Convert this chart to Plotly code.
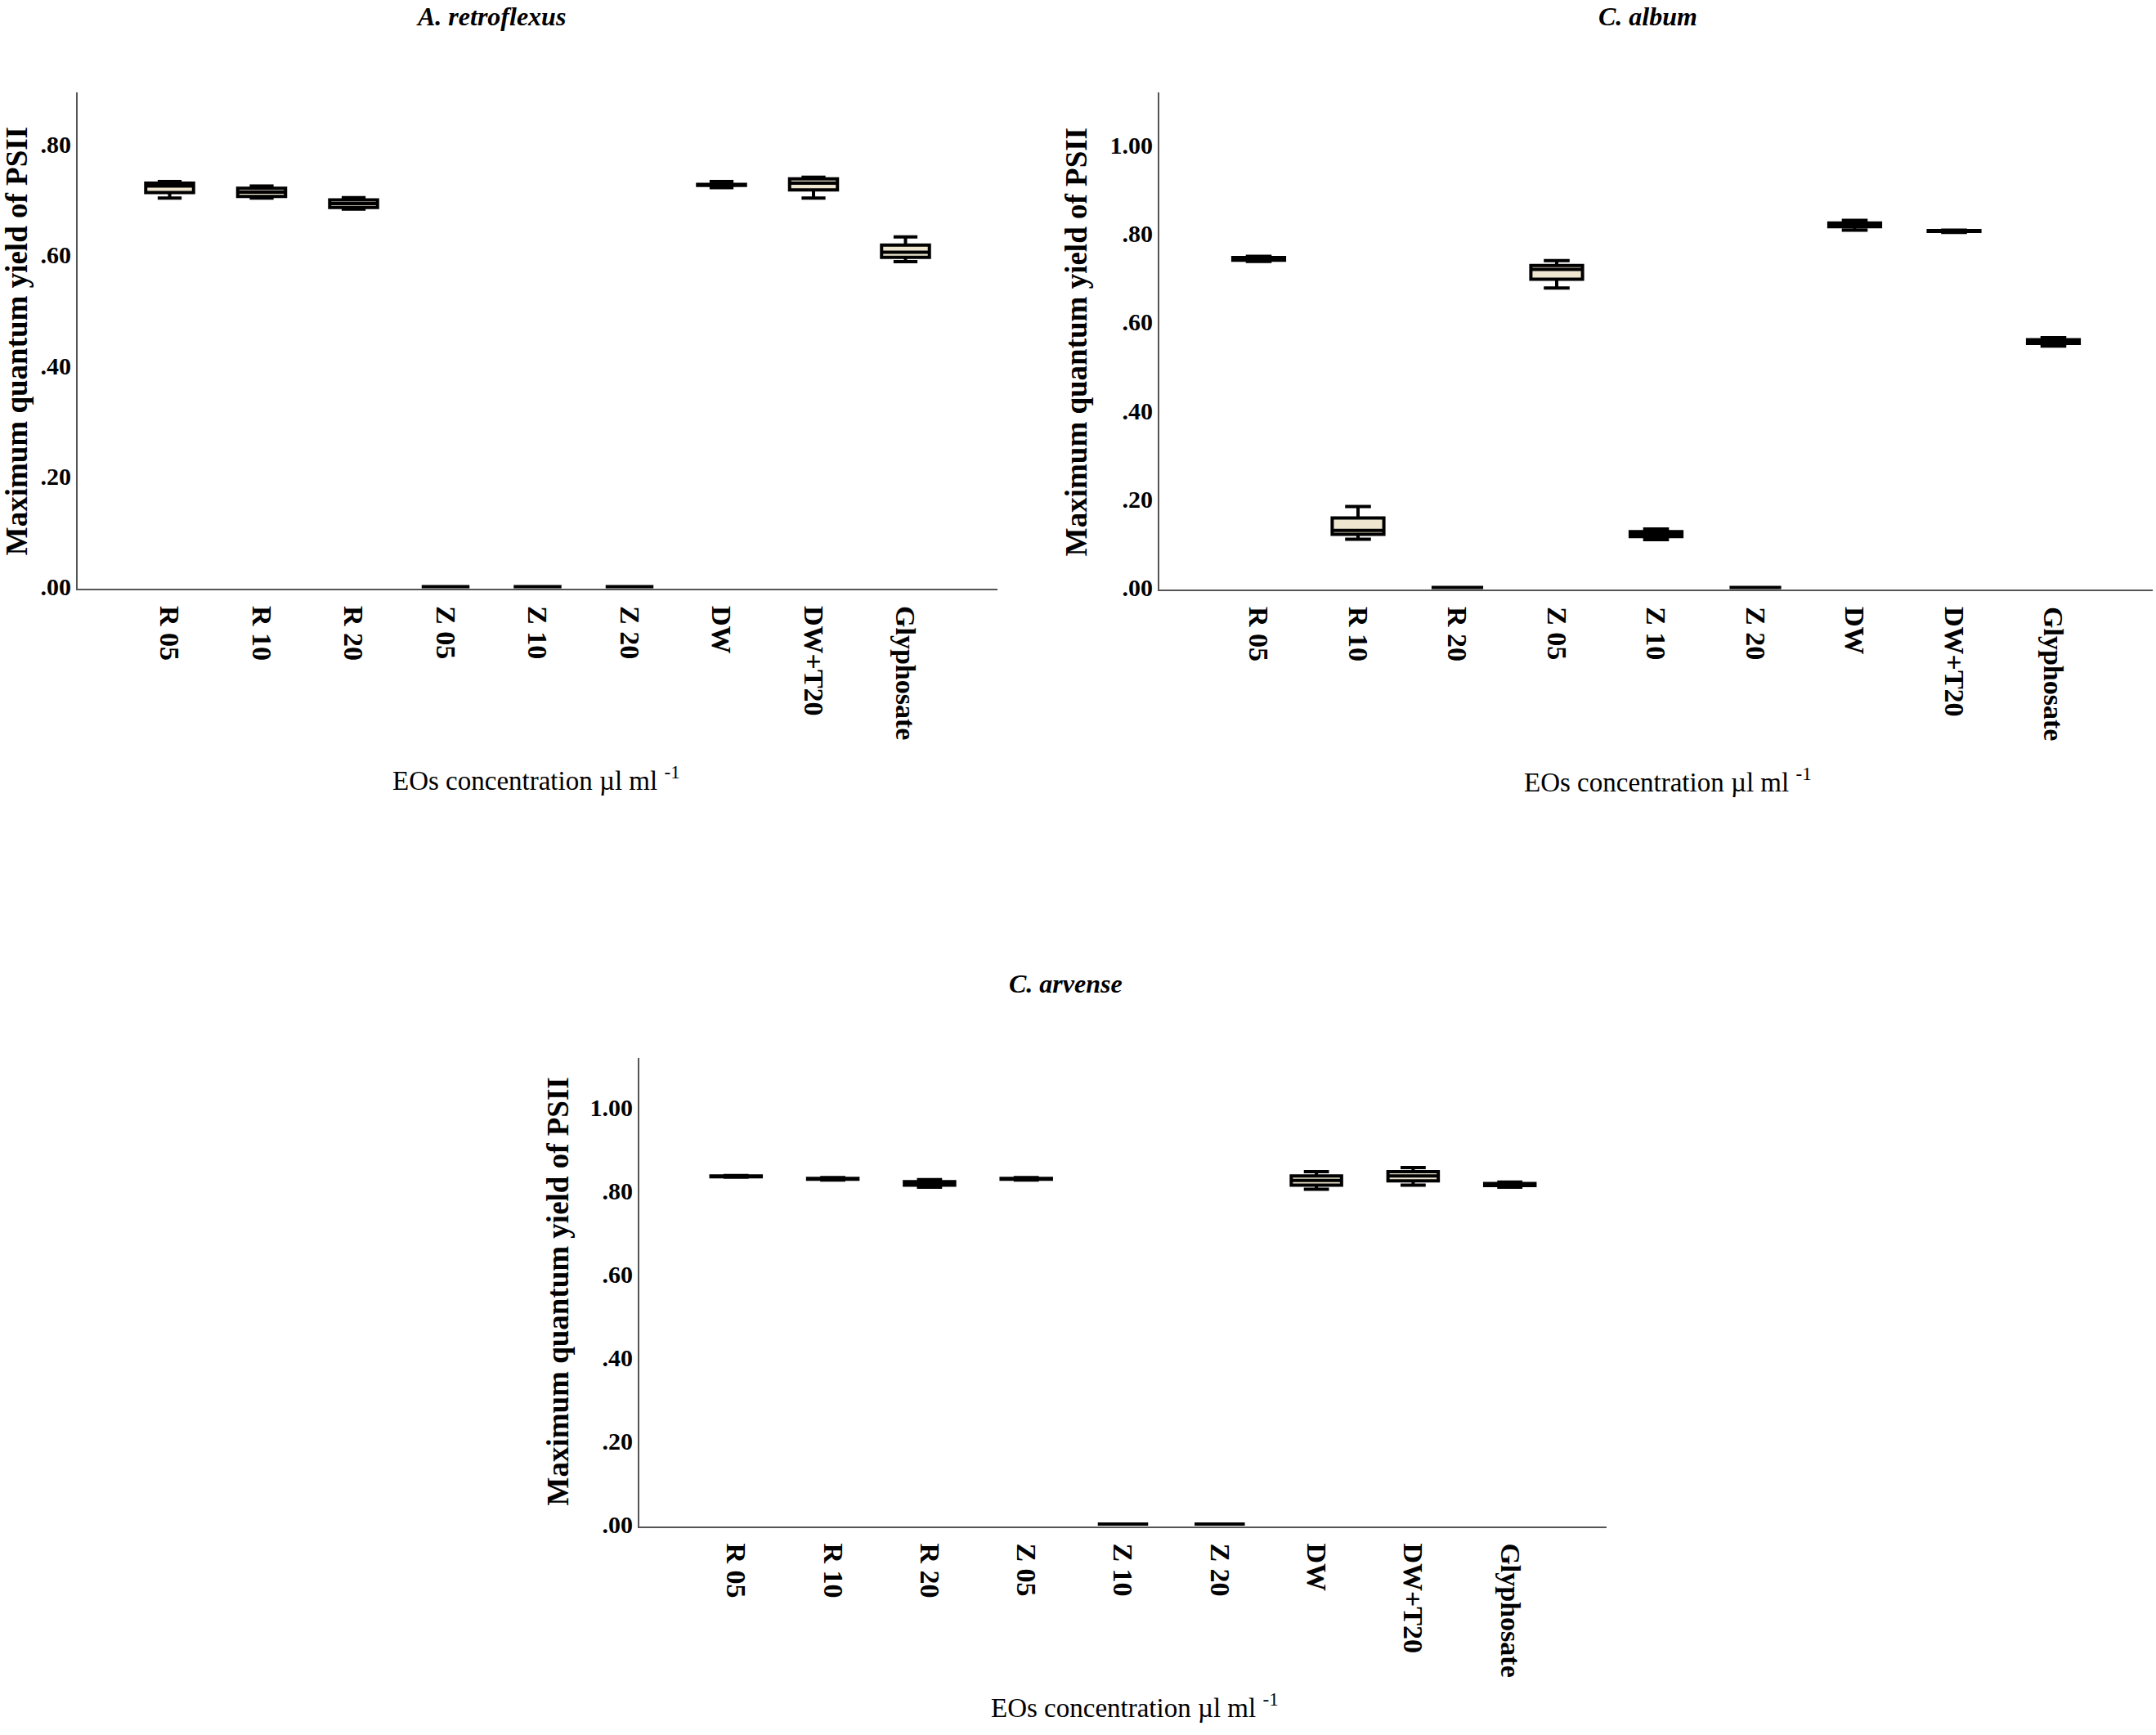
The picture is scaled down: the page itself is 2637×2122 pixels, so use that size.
import plotly.graph_objects as go

# ---------------- data ----------------
categories = ["R 05", "R 10", "R 20", "Z 05", "Z 10", "Z 20", "DW", "DW+T20", "Glyphosate"]

# A. retroflexus
ar_lower = [0.703, 0.703, 0.683, 0.0, 0.0, 0.0, 0.722, 0.703, 0.588]
ar_q1    = [0.713, 0.706, 0.686, 0.0, 0.0, 0.0, 0.726, 0.718, 0.596]
ar_med   = [0.725, 0.714, 0.693, 0.0, 0.0, 0.0, 0.727, 0.730, 0.605]
ar_q3    = [0.730, 0.721, 0.700, 0.0, 0.0, 0.0, 0.728, 0.738, 0.618]
ar_upper = [0.733, 0.725, 0.704, 0.0, 0.0, 0.0, 0.733, 0.741, 0.633]

# C. album
ca_lower = [0.737, 0.109, 0.0, 0.677, 0.108, 0.0, 0.808, 0.803, 0.546]
ca_q1    = [0.740, 0.120, 0.0, 0.697, 0.115, 0.0, 0.816, 0.805, 0.552]
ca_med   = [0.743, 0.129, 0.0, 0.719, 0.120, 0.0, 0.820, 0.806, 0.556]
ca_q3    = [0.746, 0.157, 0.0, 0.728, 0.126, 0.0, 0.824, 0.807, 0.560]
ca_upper = [0.749, 0.183, 0.0, 0.739, 0.132, 0.0, 0.830, 0.808, 0.565]

# C. arvense
cv_lower = [0.832, 0.825, 0.808, 0.825, 0.0, 0.0, 0.803, 0.813, 0.808]
cv_q1    = [0.833, 0.827, 0.813, 0.827, 0.0, 0.0, 0.813, 0.823, 0.812]
cv_med   = [0.834, 0.828, 0.817, 0.828, 0.0, 0.0, 0.824, 0.835, 0.814]
cv_q3    = [0.835, 0.829, 0.821, 0.829, 0.0, 0.0, 0.835, 0.845, 0.817]
cv_upper = [0.836, 0.831, 0.826, 0.831, 0.0, 0.0, 0.845, 0.855, 0.820]

panel_titles = ["A. retroflexus", "C. album", "C. arvense"]
y_ticks = [0.0, 0.2, 0.4, 0.6, 0.8, 1.0]
y_ticktext = [".00", ".20", ".40", ".60", ".80", "1.00"]
y_title = "Maximum quantum yield of PSII"
x_title = "EOs concentration µl ml <sup>-1</sup>"

# ---------------- figure ----------------
W, H = 2637, 2122
FONT = "Liberation Serif, Times New Roman, serif"
FILL = "#EEE6CF"

fig = go.Figure()

panels = [
    (ar_lower, ar_q1, ar_med, ar_q3, ar_upper),
    (ca_lower, ca_q1, ca_med, ca_q3, ca_upper),
    (cv_lower, cv_q1, cv_med, cv_q3, cv_upper),
]
for i, (lo, q1, md, q3, up) in enumerate(panels):
    sfx = "" if i == 0 else str(i + 1)
    fig.add_trace(go.Box(
        x=categories, lowerfence=lo, q1=q1, median=md, q3=q3, upperfence=up,
        xaxis="x" + sfx, yaxis="y" + sfx,
        fillcolor=FILL, line=dict(color="black", width=4),
        width=0.52, whiskerwidth=0.5, boxpoints=False,
        showlegend=False, hoverinfo="skip",
    ))

def px_x(p):
    return p / W

def px_y(p):
    return 1 - p / H

domains = [
    dict(x=[px_x(95), px_x(1220)], y=[px_y(725), px_y(114)], yr=[-0.004, 0.894], top=0.8),
    dict(x=[px_x(1418), px_x(2633)], y=[px_y(726), px_y(114)], yr=[-0.005, 1.119], top=1.0),
    dict(x=[px_x(782), px_x(1965)], y=[px_y(1879), px_y(1303)], yr=[-0.005, 1.117], top=1.0),
]

axis_common = dict(
    showline=True, linecolor="#555555", linewidth=2, ticks="",
    showgrid=False, zeroline=False,
)

layout = dict(
    width=W, height=H, margin=dict(l=0, r=0, t=0, b=0),
    paper_bgcolor="white", plot_bgcolor="white",
    font=dict(family=FONT, color="black"),
)
for i, d in enumerate(domains):
    sfx = "" if i == 0 else str(i + 1)
    n = [k for k, v in enumerate(y_ticks) if v <= d["top"] + 1e-9]
    layout["xaxis" + sfx] = dict(
        axis_common, domain=d["x"], anchor="y" + sfx, type="category",
        categoryorder="array", categoryarray=categories, range=[-1, 9],
        tickangle=90, ticklabelstandoff=12,
        tickfont=dict(family=FONT, size=34, color="black", weight="bold"),
    )
    layout["yaxis" + sfx] = dict(
        axis_common, domain=d["y"], anchor="x" + sfx, range=d["yr"],
        tickvals=[y_ticks[k] for k in n], ticktext=[y_ticktext[k] for k in n],
        tickfont=dict(family=FONT, size=30, color="black", weight="bold"),
    )
fig.update_layout(**layout)

annotations = []
# panel titles
for txt, (cx, cy) in zip(panel_titles, [(600, 20), (2015, 20), (1303, 1211)]):
    annotations.append(dict(
        text="<b><i>" + txt + "</i></b>", x=px_x(cx), y=px_y(cy), xref="paper", yref="paper",
        showarrow=False, xanchor="center", yanchor="middle",
        font=dict(family=FONT, size=32, color="black"),
    ))
# y titles
for (cx, cy) in [(20, 420), (1316, 421), (683, 1590)]:
    annotations.append(dict(
        text="<b>" + y_title + "</b>", x=px_x(cx), y=px_y(cy), xref="paper", yref="paper",
        showarrow=False, xanchor="center", yanchor="middle", textangle=-90,
        font=dict(family=FONT, size=37, color="black"),
    ))
# x titles
for (cx, cy) in [(656, 958), (2040, 960), (1388, 2100)]:
    annotations.append(dict(
        text=x_title, x=px_x(cx), y=px_y(cy), xref="paper", yref="paper",
        showarrow=False, xanchor="center", yanchor="middle",
        font=dict(family=FONT, size=33, color="black"),
    ))
fig.update_layout(annotations=annotations)

fig.write_html("out.html")
